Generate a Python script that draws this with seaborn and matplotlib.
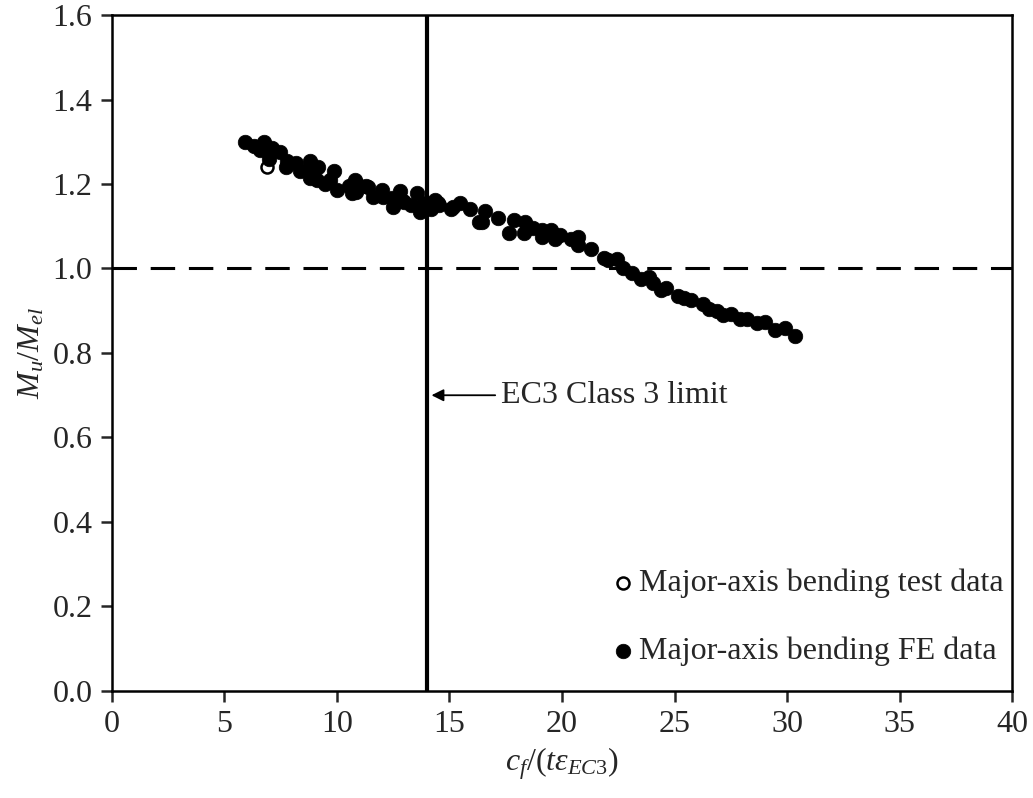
import numpy as np
import pandas as pd
import matplotlib
matplotlib.use("Agg")
import matplotlib.pyplot as plt
import seaborn as sns

# ── Data ──────────────────────────────────────────────────────────────────────
test_x = [6.9]
test_y = [1.24]

fe_x = [5.9, 6.3, 6.6, 6.75, 7.0, 7.1, 7.45, 7.8, 7.75, 8.2,
        8.35, 8.8, 8.8, 8.8, 9.1, 9.15, 9.45, 9.7, 9.85, 10.0,
        10.55, 10.65, 10.8, 10.95, 10.85, 11.3, 11.4, 11.6, 12.0, 12.05,
        12.43, 12.5, 12.8, 12.95, 13.0, 13.3, 13.55, 13.7, 13.76, 13.95,
        14.15, 14.2, 14.35, 14.5, 14.55, 15.05, 15.17, 15.45, 15.9, 16.3,
        16.43, 16.6, 17.15, 17.65, 17.85, 18.35, 18.3, 18.7, 19.1, 19.1,
        19.5, 19.7, 19.9, 20.4, 20.7, 20.7, 21.3, 21.85, 22.05, 22.45,
        22.7, 23.1, 23.5, 23.85, 24.05, 24.4, 24.6, 25.15, 25.4, 25.75,
        26.25, 26.55, 26.9, 27.15, 27.5, 27.9, 28.2, 28.65, 29.0, 29.45,
        29.9, 30.35]
fe_y = [1.30, 1.29, 1.28, 1.30, 1.26, 1.285, 1.275, 1.255, 1.24, 1.25,
        1.23, 1.255, 1.24, 1.215, 1.21, 1.24, 1.20, 1.21, 1.23, 1.185,
        1.195, 1.178, 1.209, 1.198, 1.18, 1.195, 1.194, 1.17, 1.186, 1.17,
        1.166, 1.145, 1.183, 1.16, 1.158, 1.15, 1.178, 1.134, 1.15, 1.155,
        1.145, 1.142, 1.162, 1.154, 1.15, 1.14, 1.146, 1.155, 1.14, 1.11,
        1.11, 1.135, 1.12, 1.085, 1.115, 1.11, 1.085, 1.095, 1.09, 1.075,
        1.09, 1.07, 1.08, 1.07, 1.075, 1.055, 1.045, 1.025, 1.02, 1.022,
        1.0, 0.99, 0.975, 0.98, 0.965, 0.95, 0.955, 0.935, 0.93, 0.925,
        0.915, 0.905, 0.90, 0.89, 0.892, 0.88, 0.88, 0.87, 0.873, 0.855,
        0.86, 0.84]

CLASS3_LIMIT = 14.0

test_df = pd.DataFrame({"x": test_x, "y": test_y})
fe_df = pd.DataFrame({"x": fe_x, "y": fe_y})

# ── Style ─────────────────────────────────────────────────────────────────────
sns.set_style("ticks")
plt.rcParams["font.family"] = ["Liberation Serif", "DejaVu Serif"]
plt.rcParams["mathtext.fontset"] = "custom"
plt.rcParams["mathtext.rm"] = "Liberation Serif"
plt.rcParams["mathtext.it"] = "Liberation Serif:italic"
plt.rcParams["mathtext.bf"] = "Liberation Serif:bold"

FS = 23

fig = plt.figure(figsize=(10.33, 7.98), dpi=100)
ax = fig.add_axes([0.1084, 0.1341, 0.8713, 0.8471])

sns.scatterplot(data=test_df, x="x", y="y", ax=ax, marker="o", s=75,
                facecolor="white", edgecolor="black", linewidth=1.8,
                label="Major-axis bending test data", zorder=3)
sns.scatterplot(data=fe_df, x="x", y="y", ax=ax, marker="o", s=110,
                color="black", edgecolor="black", linewidth=0.5,
                label="Major-axis bending FE data", zorder=3)

ax.axhline(1.0, color="black", lw=2.2, ls=(0, (8, 4.5)), zorder=1)
ax.axvline(CLASS3_LIMIT, color="black", lw=3.0, zorder=2)

ax.annotate("EC3 Class 3 limit", xy=(CLASS3_LIMIT + 0.2, 0.7),
            xytext=(17.3, 0.7), fontsize=FS, va="center", ha="left",
            arrowprops=dict(arrowstyle="-|>", color="black", lw=1.3,
                            mutation_scale=18, shrinkA=2, shrinkB=0))

ax.set_xlim(0, 40)
ax.set_ylim(0, 1.6)
ax.set_xticks(np.arange(0, 41, 5))
ax.set_yticks(np.arange(0, 1.61, 0.2))
ax.yaxis.set_major_formatter(matplotlib.ticker.FormatStrFormatter("%.1f"))
ax.tick_params(direction="out", length=8, width=1.8, labelsize=FS, pad=6)
for sp in ax.spines.values():
    sp.set_visible(True)
    sp.set_linewidth(1.8)
    sp.set_color("black")

ax.set_xlabel(r"$c_f/(t\varepsilon_{EC3})$", fontsize=FS, labelpad=4)
ax.set_ylabel(r"$M_u/M_{el}$", fontsize=FS, labelpad=4)

ax.legend(loc="lower right", bbox_to_anchor=(1.0, 0.025), frameon=False,
          fontsize=FS, handletextpad=0.0, labelspacing=1.2, handlelength=1.0,
          borderaxespad=0.05, borderpad=0.2)

fig.savefig("out.png", dpi=100)
plt.close(fig)
